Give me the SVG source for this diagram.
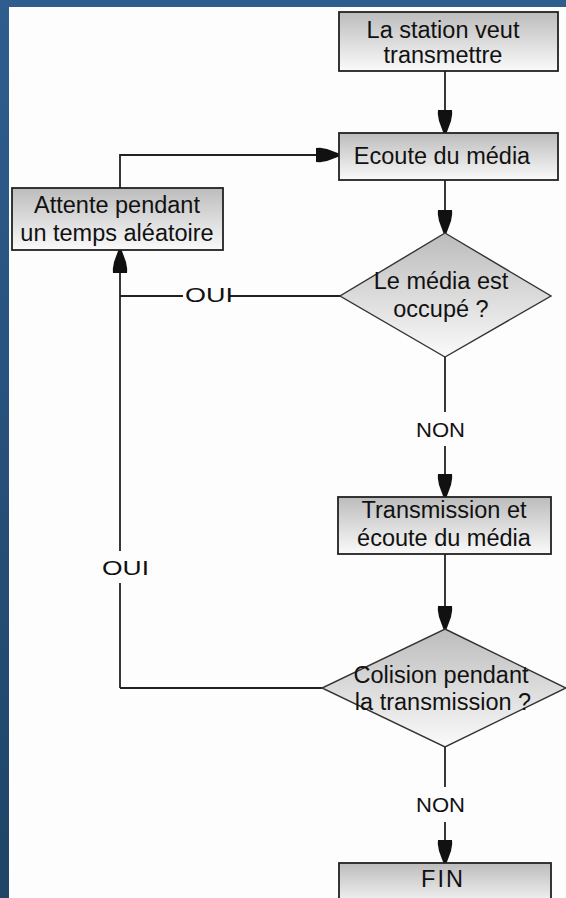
<svg xmlns="http://www.w3.org/2000/svg" width="566" height="898" viewBox="0 0 566 898">
  <defs>
    <linearGradient id="fillGrad" x1="0" y1="0" x2="0" y2="1">
      <stop offset="0" stop-color="#bcbcbc"/>
      <stop offset="1" stop-color="#fafafa"/>
    </linearGradient>
    <linearGradient id="frameGrad" x1="0" y1="0" x2="0" y2="1">
      <stop offset="0" stop-color="#2e5d8e"/>
      <stop offset="1" stop-color="#1f4467"/>
    </linearGradient>
    <marker id="arrow" viewBox="0 -8 24 16" markerWidth="24" markerHeight="16" refX="23" refY="0" orient="auto" markerUnits="userSpaceOnUse">
      <path d="M0,-7 L4,-7.2 L11,-6 L23,-1.6 L23,1.6 L11,6 L4,7.2 L0,7 Z" fill="#111"/>
    </marker>
    <style>
      .box { fill: url(#fillGrad); stroke: #222; stroke-width: 1.8; }
      .dec { fill: url(#fillGrad); stroke: #333; stroke-width: 1.4; }
      .lbl { font-family: "Liberation Sans", Arial, sans-serif; font-size: 23.5px; fill: #111; text-anchor: middle; }
      .edge { fill: none; stroke: #222; stroke-width: 1.8; }
      .tag { font-family: "Liberation Sans", Arial, sans-serif; font-size: 21px; fill: #111; }
    </style>
  </defs>

  <!-- page background and blue frame -->
  <rect x="0" y="0" width="566" height="898" fill="#fdfdfd"/>
  <rect x="0" y="0" width="9" height="898" fill="url(#frameGrad)"/>
  <rect x="0" y="0" width="566" height="7" fill="#2e5d8e"/>

  <!-- connectors -->
  <g id="connectors">
    <path class="edge" d="M445,71 V133" marker-end="url(#arrow)"/>
    <path class="edge" d="M445,180 V233" marker-end="url(#arrow)"/>
    <path class="edge" d="M340,296 H230"/>
    <path class="edge" d="M183,296 H120"/>
    <path class="edge" d="M120,688 V583"/>
    <path class="edge" d="M120,551 V250" marker-end="url(#arrow)"/>
    <path class="edge" d="M120,188 V155 H339" marker-end="url(#arrow)"/>
    <path class="edge" d="M445,357 V412"/>
    <path class="edge" d="M445,446 V497" marker-end="url(#arrow)"/>
    <path class="edge" d="M445,554 V629" marker-end="url(#arrow)"/>
    <path class="edge" d="M322,688 H120"/>
    <path class="edge" d="M445,747 V787"/>
    <path class="edge" d="M445,822 V863" marker-end="url(#arrow)"/>
    <text class="tag" x="185" y="302" textLength="48" lengthAdjust="spacingAndGlyphs">OUI</text>
    <text class="tag" x="102" y="575" textLength="47" lengthAdjust="spacingAndGlyphs">OUI</text>
    <text class="tag" x="416" y="437" textLength="49" lengthAdjust="spacingAndGlyphs">NON</text>
    <text class="tag" x="416" y="812" textLength="49" lengthAdjust="spacingAndGlyphs">NON</text>
  </g>

  <g id="start">
    <rect class="box" x="339" y="12" width="219" height="59"/>
    <text class="lbl" x="443" y="38">La station veut</text>
    <text class="lbl" x="443" y="63">transmettre</text>
  </g>

  <g id="listen">
    <rect class="box" x="339" y="133" width="219" height="47"/>
    <text class="lbl" x="442" y="164">Ecoute du média</text>
  </g>

  <g id="wait">
    <rect class="box" x="12" y="188" width="211" height="62"/>
    <text class="lbl" x="117" y="213">Attente pendant</text>
    <text class="lbl" x="117" y="241">un temps aléatoire</text>
  </g>

  <g id="busy">
    <polygon class="dec" points="445,233 551,296 445,357 340,296"/>
    <text class="lbl" x="441" y="289">Le média est</text>
    <text class="lbl" x="441" y="317">occupé ?</text>
  </g>

  <g id="transmit">
    <rect class="box" x="338" y="497" width="213" height="57"/>
    <text class="lbl" x="444" y="518">Transmission et</text>
    <text class="lbl" x="444" y="546">écoute du média</text>
  </g>

  <g id="collision">
    <polygon class="dec" points="445,629 566,688 445,747 322,688"/>
    <text class="lbl" x="441" y="683">Colision pendant</text>
    <text class="lbl" x="443" y="710">la transmission ?</text>
  </g>

  <g id="end">
    <rect class="box" x="339" y="863" width="212" height="45"/>
    <text class="lbl" x="443" y="887" letter-spacing="2">FIN</text>
  </g>
</svg>
